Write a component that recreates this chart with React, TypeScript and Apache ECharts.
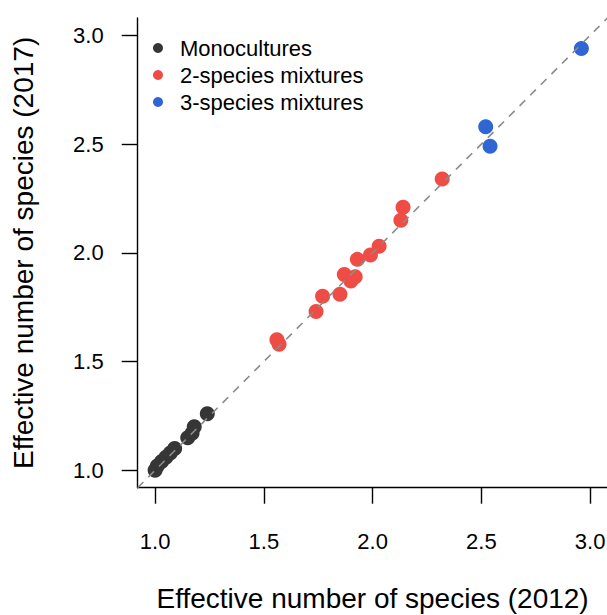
import React, { useEffect, useRef } from "react";
import * as echarts from "echarts";

// Effective number of species per plot, 2012 vs 2017
const mono2012 = [1.0, 1.01, 1.03, 1.05, 1.07, 1.09, 1.15, 1.17, 1.18, 1.24];
const mono2017 = [1.0, 1.02, 1.04, 1.06, 1.08, 1.1, 1.15, 1.17, 1.2, 1.26];

const mix2012 = [1.56, 1.57, 1.74, 1.77, 1.85, 1.87, 1.9, 1.92, 1.93, 1.99, 2.03, 2.13, 2.14, 2.32];
const mix2017 = [1.6, 1.58, 1.73, 1.8, 1.81, 1.9, 1.87, 1.89, 1.97, 1.99, 2.03, 2.15, 2.21, 2.34];

const tri2012 = [2.52, 2.54, 2.96];
const tri2017 = [2.58, 2.49, 2.94];

const tickValues = [1.0, 1.5, 2.0, 2.5, 3.0];
const axisMin = 0.92;
const axisMax = 3.08;

const groupNames = ["Monocultures", "2-species mixtures", "3-species mixtures"];
const groupColors = ["#363636", "#EE4C45", "#2F66D4"];

const FONT = "'Liberation Sans', Arial, Helvetica, sans-serif";

const zip = (xs: number[], ys: number[]) => xs.map((x, i) => [x, ys[i]]);

export default function App() {
  const ref = useRef<HTMLDivElement>(null);

  useEffect(() => {
    if (!ref.current) return;
    const chart = echarts.init(ref.current, null, { renderer: "svg" });

    const axisCommon = {
      type: "value" as const,
      min: axisMin,
      max: axisMax,
      nameLocation: "middle" as const,
      nameTextStyle: { fontFamily: FONT, fontSize: 28, color: "#000" },
      splitLine: { show: false },
      axisLine: { show: true, onZero: false, lineStyle: { color: "#000", width: 1.4 } },
      axisTick: {
        show: true,
        length: 16,
        customValues: tickValues,
        lineStyle: { color: "#000", width: 1.4 },
      },
      axisLabel: {
        customValues: tickValues,
        fontFamily: FONT,
        fontSize: 22,
        color: "#000",
        formatter: (v: number) => v.toFixed(1),
      },
    };

    const groups = [
      zip(mono2012, mono2017),
      zip(mix2012, mix2017),
      zip(tri2012, tri2017),
    ];

    chart.setOption({
      animation: false,
      backgroundColor: "#fff",
      grid: {
        left: 137.7,
        top: 18,
        width: 469.8,
        height: 469.7,
        containLabel: false,
        outerBoundsMode: "none",
      },
      xAxis: {
        ...axisCommon,
        name: "Effective number of species (2012)",
        nameGap: 97,
        axisLabel: { ...axisCommon.axisLabel, margin: 43 },
      },
      yAxis: {
        ...axisCommon,
        name: "Effective number of species (2017)",
        nameGap: 100,
        axisLabel: { ...axisCommon.axisLabel, margin: 34 },
      },
      legend: {
        orient: "vertical",
        left: 153,
        top: 34.5,
        padding: 0,
        itemGap: 0,
        itemWidth: 10,
        itemHeight: 10,
        icon: "circle",
        data: groupNames,
        textStyle: {
          fontFamily: FONT,
          fontSize: 22,
          color: "#000",
          lineHeight: 27,
          padding: [0, 0, 0, 12],
        },
      },
      series: [
        ...groups.map((data, i) => ({
          type: "scatter",
          name: groupNames[i],
          data,
          symbol: "circle",
          symbolSize: 15,
          itemStyle: { color: groupColors[i], opacity: 1 },
        })),
        {
          type: "line",
          name: "1:1",
          data: [
            [axisMin, axisMin],
            [axisMax, axisMax],
          ],
          showSymbol: false,
          symbol: "none",
          silent: true,
          lineStyle: { color: "#8a8a8a", width: 1.6, type: [8, 7] },
          z: 5,
        },
      ],
    });

    return () => chart.dispose();
  }, []);

  return (
    <div
      ref={ref}
      style={{ position: "absolute", left: 0, top: 0, width: 607, height: 615 }}
    />
  );
}
